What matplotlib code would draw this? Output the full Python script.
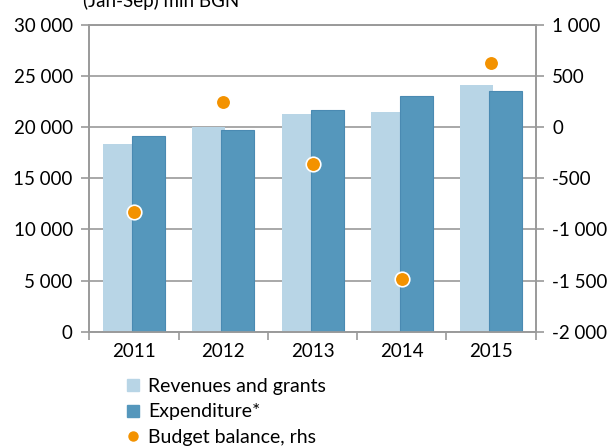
import matplotlib.pyplot as plt
from matplotlib.lines import Line2D
import numpy as np

plt.rcParams['font.family'] = ['Lato', 'DejaVu Sans']

years = ['2011', '2012', '2013', '2014', '2015']
revenues = [18330, 20000, 21260, 21520, 24100]
expenditure = [19140, 19730, 21650, 23020, 23510]
balance = [-825, 245, -360, -1485, 625]

light = '#b8d5e6'
dark = '#5597bc'
orange = '#f39200'
grey = '#9a9a9a'

fig = plt.figure(figsize=(6.13, 4.46), dpi=100)
ax = fig.add_axes([0.146, 0.2563, 0.7277, 0.6877])
x = np.arange(len(years))

ax.bar(x - 0.1625, revenues, width=0.37, color=light, zorder=2)
ax.bar(x + 0.1625, expenditure, width=0.37, color=dark, edgecolor='#4a8ab2',
       linewidth=0.8, zorder=3)

ax.set_xlim(-0.5, 4.5)
ax.set_ylim(0, 30000)
ax.set_yticks(range(0, 30001, 5000))
ax.set_yticklabels([f'{v:,}'.replace(',', ' ') for v in range(0, 30001, 5000)])
ax.yaxis.grid(True, color=grey, linewidth=1.2, zorder=1)
ax.set_axisbelow(True)
ax.set_xticks(x)
ax.set_xticklabels(years)
ax.set_xticks(np.arange(-0.5, 4.6, 1), minor=True)
ax.tick_params(axis='x', which='major', length=0, pad=8, labelsize=13.5)
ax.tick_params(axis='x', which='minor', length=6, color=grey, width=1.2)
ax.tick_params(axis='y', length=6, color=grey, width=1.2, labelsize=13.5, pad=6)
for s in ax.spines.values():
    s.set_color(grey)
    s.set_linewidth(1.2)

ax2 = ax.twinx()
ax2.scatter(x, balance, s=110, color=orange, edgecolor='white', linewidth=1.2, zorder=5)
ax2.set_ylim(-2000, 1000)
ax2.set_yticks(range(-2000, 1001, 500))
ax2.set_yticklabels([f'{v:,}'.replace(',', ' ') for v in range(-2000, 1001, 500)])
ax2.tick_params(axis='y', length=6, color=grey, width=1.2, labelsize=13.5, pad=6)
for s in ax2.spines.values():
    s.set_color(grey)
    s.set_linewidth(1.2)

fig.text(0.135, 0.998, '(Jan-Sep) mln BGN', fontsize=13.5, va='center', ha='left')

handles = [
    Line2D([], [], marker='s', linestyle='none', color=light, markersize=8.5),
    Line2D([], [], marker='s', linestyle='none', color=dark, markersize=8.5),
    Line2D([], [], marker='o', linestyle='none', color=orange, markersize=6.5),
]
labels = ['Revenues and grants', 'Expenditure*', 'Budget balance, rhs']
fig.legend(handles, labels, loc='upper left', bbox_to_anchor=(0.205, 0.153),
           frameon=False, fontsize=14, handlelength=0.8, handletextpad=0.35,
           labelspacing=0.44, borderaxespad=0, borderpad=0)

fig.savefig('out.png', dpi=100)
